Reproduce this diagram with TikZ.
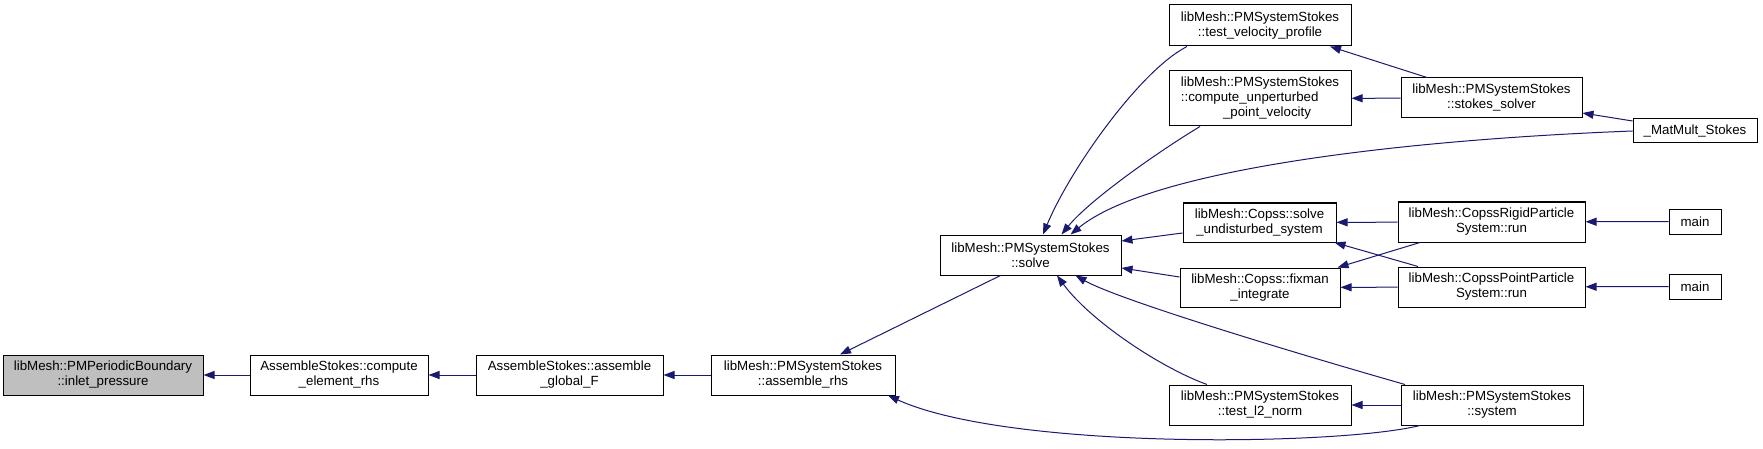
\documentclass[tikz,border=0pt]{standalone}
\usepackage{fontspec}
\setmainfont{Liberation Sans}
\usetikzlibrary{arrows.meta}
\definecolor{edgeblue}{RGB}{25,25,112}
\definecolor{hlgray}{RGB}{191,191,191}

\begin{document}
\begin{tikzpicture}[x=1pt,y=-1pt,line width=1pt,>={Triangle[length=11pt,width=8pt]},
  fn/.style={draw=black,fill=white,inner sep=0pt,minimum height=40pt,align=center,
    font=\fontsize{13.3}{15}\selectfont},
  call/.style={->,edgeblue}]
  \useasboundingbox (0,0) rectangle (1763,449);
  \node[fn,fill=hlgray,minimum width=200pt] (inlet) at (103,375) {libMesh::PMPeriodicBoundary\\::inlet\_pressure};
  \node[fn,minimum width=178pt] (cer) at (339,375) {AssembleStokes::compute\\\_element\_rhs};
  \node[fn,minimum width=187pt] (agf) at (569.5,375) {AssembleStokes::assemble\\\_global\_F};
  \node[fn,minimum width=184pt] (arhs) at (803,375) {libMesh::PMSystemStokes\\::assemble\_rhs};
  \node[fn,minimum width=181pt] (solve) at (1030.5,255) {libMesh::PMSystemStokes\\::solve};
  \node[fn,minimum width=182pt,minimum height=41pt] (tvp) at (1260,25.5) {libMesh::PMSystemStokes\\::test\_velocity\_profile};
  \node[fn,minimum width=182pt,minimum height=55pt] (cupv) at (1260,98.5) {libMesh::PMSystemStokes\\\rlap{::compute\_unperturbed}\phantom{libMesh::PMSystemStokes}\\\hspace*{14pt}\_point\_velocity};
  \node[fn,minimum width=153pt,minimum height=39pt] (csolve) at (1259.5,222.5) {libMesh::Copss::solve\\\_undisturbed\_system};
  \node[fn,minimum width=160pt,minimum height=39pt] (fixman) at (1260,287.5) {libMesh::Copss::fixman\\\_integrate};
  \node[fn,minimum width=182pt] (tl2) at (1260,405) {libMesh::PMSystemStokes\\::test\_l2\_norm};
  \node[fn,minimum width=181pt] (ssolver) at (1491.5,98) {libMesh::PMSystemStokes\\::stokes\_solver};
  \node[fn,minimum width=187pt] (rigid) at (1491.5,222) {libMesh::CopssRigidParticle\\System::run};
  \node[fn,minimum width=187pt] (point) at (1491.5,287) {libMesh::CopssPointParticle\\System::run};
  \node[fn,minimum width=182pt] (system) at (1492,405) {libMesh::PMSystemStokes\\::system};
  \node[fn,minimum width=124pt,minimum height=24pt] (matmult) at (1695,131) {\_MatMult\_Stokes};
  \node[fn,minimum width=52pt,minimum height=25pt] (main1) at (1695,221.5) {main};
  \node[fn,minimum width=52pt,minimum height=25pt] (main2) at (1695,286.5) {main};

  \draw[call] (cer) -- (inlet);
  \draw[call] (agf) -- (cer);
  \draw[call] (arhs) -- (agf);
  \draw[call] ([xshift=-30pt]solve.south) -- ([xshift=37pt]arhs.north);
  \draw[call] ([xshift=-72pt]system.south) .. controls +(-80,20) and +(122,55) .. ([xshift=85pt]arhs.south);
  \draw[call] ([xshift=-73pt]tvp.south) .. controls +(-47,24) and +(27,-65) .. ([xshift=12.5pt]solve.north);
  \draw[call] ([xshift=-60pt]cupv.south) .. controls +(-40,24) and +(28.5,-35) .. ([xshift=31pt]solve.north);
  \draw[call] (matmult.west) .. controls +(-233,9) and +(79.5,-65) .. ([xshift=40pt]solve.north);
  \draw[call] ([yshift=-10.5pt]csolve.west) -- ([yshift=14pt]solve.east);
  \draw[call] ([yshift=10.5pt]fixman.west) -- ([yshift=-13pt]solve.east);
  \draw[call] ([xshift=-53pt]tl2.north) .. controls +(-47,-17) and +(33,45) .. ([xshift=26.5pt]solve.south);
  \draw[call] ([xshift=-87pt]system.north) .. controls +(-105,-30) and +(44.5,25) .. ([xshift=45pt]solve.south);
  \draw[call] ([xshift=-64.5pt]ssolver.north) -- ([xshift=70pt]tvp.south);
  \draw[call] (ssolver) -- (cupv);
  \draw[call] ([yshift=10pt]matmult.west) -- ([yshift=-15pt]ssolver.east);
  \draw[call] (rigid) -- (csolve);
  \draw[call] ([xshift=-71.5pt]rigid.south) -- ([xshift=-3pt]fixman.north east);
  \draw[call] ([xshift=-73.5pt]point.north) -- ([xshift=-2pt]csolve.south east);
  \draw[call] (point) -- (fixman);
  \draw[call] (main1) -- (rigid);
  \draw[call] (main2) -- (point);
  \draw[call] (system) -- (tl2);
\end{tikzpicture}
\end{document}
